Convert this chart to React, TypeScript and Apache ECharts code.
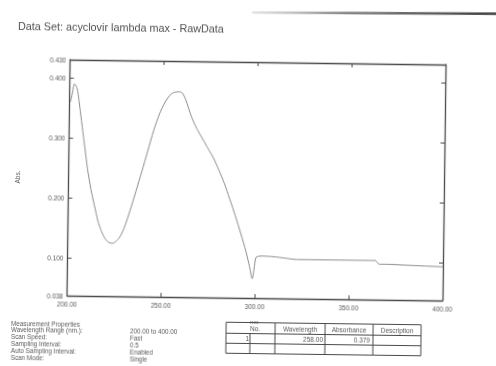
import React, { useEffect, useRef } from "react";
import * as echarts from "echarts";

const wavelengths = [200.5, 201.5, 202.5, 204, 206, 208, 210, 212, 214, 216, 218, 220, 222, 224, 226, 228, 230, 233, 236, 239, 242, 245, 248, 251, 254, 256, 258, 260, 262, 265, 268, 271, 274, 277, 280, 283, 286, 289, 292, 295, 297, 298.5, 299.5, 300.5, 304, 310, 316, 322, 330, 340, 350, 360, 364, 366, 370, 380, 390, 400];
const absorbance = [0.36, 0.375, 0.39, 0.382, 0.34, 0.295, 0.25, 0.215, 0.188, 0.162, 0.145, 0.133, 0.127, 0.126, 0.13, 0.138, 0.152, 0.181, 0.213, 0.246, 0.28, 0.314, 0.342, 0.362, 0.375, 0.378, 0.379, 0.377, 0.365, 0.338, 0.318, 0.302, 0.286, 0.27, 0.25, 0.228, 0.202, 0.175, 0.146, 0.115, 0.09, 0.07, 0.088, 0.106, 0.108, 0.107, 0.105, 0.103, 0.103, 0.103, 0.103, 0.103, 0.103, 0.097, 0.097, 0.096, 0.095, 0.094];

const xMin = 200;
const xMax = 400;
const xStep = 50;
const yMin = 0.038;
const yMax = 0.43;

const titleText = "Data Set: acyclovir lambda max - RawData";
const propLabels = ["Measurement Properties", "Wavelength Range (nm.):", "Scan Speed:", "Sampling Interval:", "Auto Sampling Interval:", "Scan Mode:"];
const propValues = ["", "200.00 to 400.00", "Fast", "0.5", "Enabled", "Single"];
const peakHeaders = ["No.", "Wavelength", "Absorbance", "Description"];
const peakRow = ["1", "258.00", "0.379", ""];

const FONT = "'Liberation Sans', Arial, sans-serif";
const TXT = "#5a5a5a";
const FRAME = "#4a4a4a";

export default function App() {
  const ref = useRef<HTMLDivElement>(null);
  useEffect(() => {
    if (!ref.current) return;
    const chart = echarts.init(ref.current, null, { renderer: "svg" });
    const graphics: any[] = [];
    // scan artifact line
    graphics.push({
      type: "line",
      shape: { x1: 250, y1: 12.5, x2: 496, y2: 10.5 },
      style: {
        stroke: new echarts.graphic.LinearGradient(0, 0, 1, 0, [
          { offset: 0, color: "rgba(120,120,120,0.2)" },
          { offset: 0.4, color: "rgba(70,70,70,0.7)" },
          { offset: 1, color: "rgba(40,40,40,0.9)" },
        ]),
        lineWidth: 2.5,
      },
      silent: true,
    });
    // properties block
    const propY = (i: number) => 326 + i * 6.8;
    propLabels.forEach((t, i) => {
      graphics.push({
        type: "text",
        x: 13,
        y: propY(i),
        style: { text: t, fill: TXT, font: `6.3px ${FONT}`, textVerticalAlign: "middle" },
      });
    });
    propValues.forEach((t, i) => {
      if (!t) return;
      graphics.push({
        type: "text",
        x: 132,
        y: propY(i),
        style: { text: t, fill: TXT, font: `6.3px ${FONT}`, textVerticalAlign: "middle" },
      });
    });
    // peak table
    const tx = [228, 277, 327, 375, 423];
    const ty = [322.5, 333.5, 343.5, 353.5];
    ty.forEach((y) =>
      graphics.push({ type: "line", shape: { x1: tx[0], y1: y, x2: tx[tx.length - 1], y2: y }, style: { stroke: FRAME, lineWidth: 1 } })
    );
    tx.forEach((x) =>
      graphics.push({ type: "line", shape: { x1: x, y1: ty[0], x2: x, y2: ty[ty.length - 1] }, style: { stroke: FRAME, lineWidth: 1 } })
    );
    graphics.push({ type: "line", shape: { x1: 252, y1: ty[1], x2: 252, y2: ty[3] }, style: { stroke: FRAME, lineWidth: 1 } });
    const headerX = [257, 302, 351, 399];
    peakHeaders.forEach((t, i) =>
      graphics.push({
        type: "text",
        x: headerX[i],
        y: (ty[0] + ty[1]) / 2,
        style: { text: t, fill: TXT, font: `6.5px ${FONT}`, textAlign: "center", textVerticalAlign: "middle" },
      })
    );
    const rowX = [251, 325, 372, 420];
    peakRow.forEach((t, i) => {
      if (!t) return;
      graphics.push({
        type: "text",
        x: rowX[i],
        y: (ty[1] + ty[2]) / 2,
        style: { text: t, fill: TXT, font: `6.5px ${FONT}`, textAlign: "right", textVerticalAlign: "middle" },
      });
    });

    const axisCommon = {
      axisLine: { show: true, lineStyle: { color: FRAME, width: 1.3 } },
      axisTick: { show: true, inside: true, length: 4, lineStyle: { color: FRAME } },
      splitLine: { show: false },
    };

    chart.setOption({
      animation: false,
      backgroundColor: "#ffffff",
      title: {
        text: titleText,
        left: 16,
        top: 23,
        padding: 0,
        textStyle: { fontSize: 10.8, fontWeight: "normal", color: "#505050", fontFamily: FONT },
      },
      grid: { left: 68.5, right: 52, top: 62, bottom: 68 },
      xAxis: [
        {
          type: "value",
          min: xMin,
          max: xMax,
          interval: xStep,
          name: "nm",
          nameLocation: "middle",
          nameGap: 21,
          nameTextStyle: { fontSize: 6, color: TXT, fontFamily: FONT },
          axisLabel: { fontSize: 6.5, color: TXT, fontFamily: FONT, margin: 5, formatter: (v: number) => v.toFixed(2) },
          ...axisCommon,
        },
        {
          type: "value",
          position: "top",
          min: xMin,
          max: xMax,
          interval: xStep,
          axisLabel: { show: false },
          ...axisCommon,
        },
      ],
      yAxis: [
        {
          type: "value",
          min: yMin,
          max: yMax,
          splitNumber: 4,
          name: "Abs.",
          nameLocation: "middle",
          nameRotate: 90,
          nameGap: 48,
          nameTextStyle: { fontSize: 6.5, color: TXT, fontFamily: FONT },
          axisLabel: { fontSize: 6.5, color: TXT, fontFamily: FONT, margin: 4, formatter: (v: number) => v.toFixed(3) },
          ...axisCommon,
        },
        {
          type: "value",
          position: "right",
          min: yMin,
          max: yMax,
          splitNumber: 4,
          axisLabel: { show: false },
          ...axisCommon,
        },
      ],
      series: [
        {
          type: "line",
          data: wavelengths.map((w, i) => [w, absorbance[i]]),
          showSymbol: false,
          smooth: 0.25,
          lineStyle: { color: "#8c8c8c", width: 1 },
        },
      ],
      graphic: graphics,
    });
    return () => chart.dispose();
  }, []);
  return (
    <div
      ref={ref}
      style={{ position: "fixed", left: 0, top: 0, width: 496, height: 366, transform: "rotate(0.75deg)", background: "#fff" }}
    />
  );
}
